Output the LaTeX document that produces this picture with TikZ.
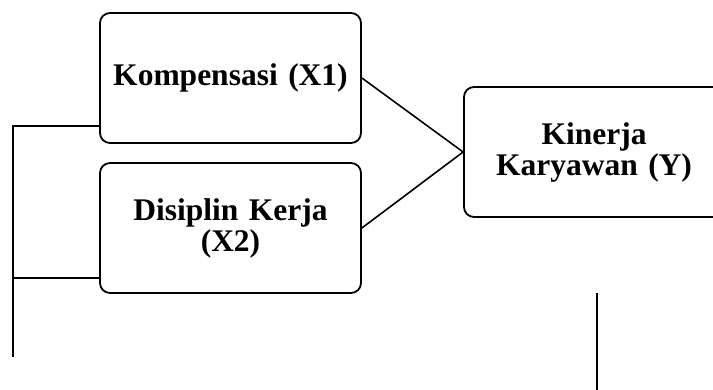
\documentclass[tikz,border=0pt]{standalone}
\usepackage{fontspec}
\setmainfont{Liberation Serif}
\begin{document}
\begin{tikzpicture}[x=1pt,y=-1pt,
  varbox/.style={draw,line width=1.8pt,rounded corners=10pt,minimum width=261pt,minimum height=130pt,
    align=center,font=\fontsize{31.5}{31}\selectfont\bfseries,inner sep=0pt,text width=250pt},
  link/.style={line width=1.6pt}]
\useasboundingbox (0,0) rectangle (713,390);
\clip (0,0) rectangle (713,390);
\node[varbox] (b1) at (230.5,78) {Kompensasi (X1)};
\node[varbox] (b2) at (230.5,228) {Disiplin Kerja\\(X2)};
\node[varbox,minimum width=260pt] (by) at (594,152) {Kinerja\\Karyawan (Y)};
\draw[link] (b1.east) -- (by.west);
\draw[link] (b2.east) -- (by.west);
\coordinate (l1) at (13,126);
\coordinate (l2) at (13,278);
\coordinate (lb) at (13,357);
\draw[link] (l1 -| b1.west) -- (l1) -- (lb);
\draw[link] (l2 -| b2.west) -- (l2);
\coordinate (v1) at (597,293);
\coordinate (v2) at (597,392);
\draw[link] (v1) -- (v2);
\end{tikzpicture}
\end{document}
